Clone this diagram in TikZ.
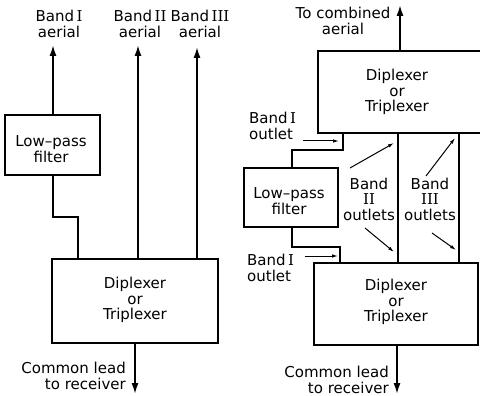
\documentclass[tikz,border=0pt]{standalone}
\usepackage{fontspec}
\setmainfont{DejaVu Sans}
\newfontfamily\rnum{DejaVu Serif}
\newcommand{\RI}{{\rnum I}}
\newcommand{\RII}{{\rnum II}}
\newcommand{\RIII}{{\rnum III}}
\usetikzlibrary{arrows.meta}
\begin{document}
\begin{tikzpicture}[x=1pt,y=-1pt,
  txt/.style={font=\fontsize{15pt}{15.5pt}\selectfont,inner sep=0pt,align=center},
  boxnode/.style={draw,line width=1.3pt,inner sep=0pt},
  wire/.style={line width=2.4pt},
  bigarrow/.style={wire,-{Latex[length=12pt,width=7pt]}},
  thinarrow/.style={line width=1pt,-{Latex[length=6pt,width=3.5pt]}}]
\useasboundingbox (0,0) rectangle (480,396);
% ---------- left diagram ----------
\node[boxnode,minimum width=95pt,minimum height=60pt] (lpfL) at (52.5,145) {};
\node[boxnode,minimum width=166pt,minimum height=84pt] (dipL) at (135,301) {};
\node[txt] (lpfLt) at (51,149) {Low–pass\\filter};
\node[txt] (dipLt) at (135,300) {Diplexer\\or\\Triplexer};
\node[txt] (bIt) at (59,24) {Band\,\RI\\aerial};
\node[txt] (bIIt) at (140,24) {Band\,\RII\\aerial};
\node[txt] (bIIIt) at (200,24) {Band\,\RIII\\aerial};
\node[txt,align=right,anchor=east] (comL) at (126,376) {Common lead\\to receiver};
\coordinate (aI) at (53,44);
\coordinate (aII) at (138,44);
\coordinate (aIII) at (197,46);
\coordinate (lk1) at (78,217);
\coordinate (lk2) at (78,259);
\coordinate (dII) at (138,259);
\coordinate (dIII) at (197,259);
\coordinate (outL) at (135,395);
\draw[bigarrow] (lpfL.north -| aI) -- (aI);
\draw[wire] (lpfL.south -| aI) |- (lk1) -- (lk2);
\draw[bigarrow] (dII) -- (aII);
\draw[bigarrow] (dIII) -- (aIII);
\draw[bigarrow] (dipL.south) -- (outL);
% ---------- right diagram ----------
\node[boxnode,minimum width=166pt,minimum height=82pt] (dipU) at (401,92) {};
\node[boxnode,minimum width=94pt,minimum height=59pt] (lpfR) at (291,197.5) {};
\node[boxnode,minimum width=164pt,minimum height=82pt] (dipD) at (396,304) {};
\node[txt] (dipUt) at (397,92) {Diplexer\\or\\Triplexer};
\node[txt] (lpfRt) at (289,201) {Low–pass\\filter};
\node[txt] (dipDt) at (396,302) {Diplexer\\or\\Triplexer};
\node[txt,align=center] (combt) at (343,21) {To combined\\aerial};
\node[txt,align=right,anchor=east] (comR) at (389,380) {Common lead\\to receiver};
\node[txt,align=left,anchor=west] (oIU) at (249,126) {Band\,\RI\\outlet};
\node[txt,align=left,anchor=west] (oID) at (247,268) {Band\,\RI\\outlet};
\node[txt] (oII) at (369,199) {Band\\\RII\\outlets};
\node[txt] (oIII) at (430,199) {Band\\\RIII\\outlets};
\coordinate (aTop) at (400,4);
\coordinate (u1) at (343,150);
\coordinate (u2) at (292,150);
\coordinate (d1) at (292,247);
\coordinate (d2) at (340,247);
\coordinate (uII) at (398,133);
\coordinate (lII) at (398,263);
\coordinate (uIII) at (459,133);
\coordinate (lIII) at (459,263);
\coordinate (outR) at (397,395);
\draw[bigarrow] (dipU.north -| aTop) -- (aTop);
\draw[wire] (dipU.south -| u1) -- (u1) -- (u2) -- (lpfR.north -| u2);
\draw[wire] (lpfR.south -| d1) -- (d1) -- (d2) -- (dipD.north -| d2);
\draw[wire] (uII) -- (lII);
\draw[wire] (uIII) -- (lIII);
\draw[bigarrow] (dipD.south -| outR) -- (outR);
% small pointer arrows
\coordinate (p1a) at (303,141); \coordinate (p1b) at (339,141);
\coordinate (p2a) at (305,256); \coordinate (p2b) at (338,256);
\coordinate (p3a) at (350,168); \coordinate (p3b) at (394,143);
\coordinate (p4a) at (365,228); \coordinate (p4b) at (394,252);
\coordinate (p5a) at (426,176); \coordinate (p5b) at (455,138);
\coordinate (p6a) at (432,233); \coordinate (p6b) at (456,250);
\draw[thinarrow] (p1a) -- (p1b);
\draw[thinarrow] (p2a) -- (p2b);
\draw[thinarrow] (p3a) -- (p3b);
\draw[thinarrow] (p4a) -- (p4b);
\draw[thinarrow] (p5a) -- (p5b);
\draw[thinarrow] (p6a) -- (p6b);
\end{tikzpicture}
\end{document}
